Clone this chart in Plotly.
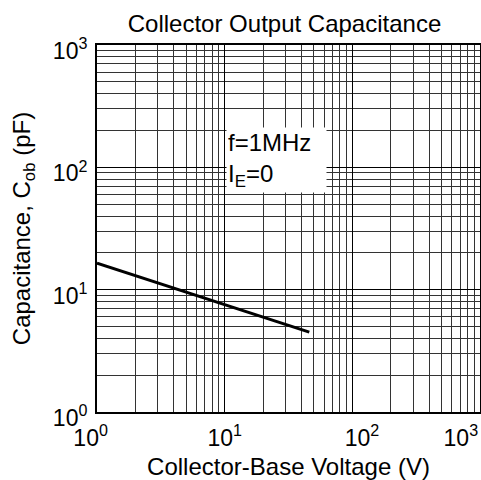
import plotly.graph_objects as go

# data
voltage_v = [1, 46]
capacitance_pf = [16.5, 4.5]
tick_vals = [1, 10, 100, 1000]
x_tick_text = ["10<sup>0</sup>\u00a0\u00a0", "10<sup>1</sup>", "\u00a0\u00a0\u00a010<sup>2</sup>",
               "10<sup>3</sup>\u00a0\u00a0\u00a0\u00a0\u00a0\u00a0"]
y_tick_text = ["10<sup>0</sup>", "10<sup>1</sup>", "10<sup>2</sup>", "10<sup>3</sup>"]

FONT = "Liberation Sans, Arial, sans-serif"

fig = go.Figure()
fig.add_trace(go.Scatter(x=voltage_v, y=capacitance_pf, mode="lines",
                         line=dict(color="black", width=3), showlegend=False,
                         hoverinfo="skip"))

axis_common = dict(
    type="log", tickvals=tick_vals,
    showgrid=True, gridcolor="black", gridwidth=1,
    minor=dict(showgrid=True, gridcolor="#333", gridwidth=1, dtick="D1", ticks=""),
    showline=True, linecolor="black", linewidth=2, mirror=True,
    ticks="", zeroline=False, ticklabeloverflow="allow",
    tickfont=dict(family=FONT, size=23, color="black"),
)

fig.update_xaxes(range=[0, 3], ticktext=x_tick_text,
                 title=dict(text="Collector-Base Voltage (V)",
                            font=dict(family=FONT, size=24, color="black"), standoff=14),
                 ticklabelstandoff=4, **axis_common)
fig.update_yaxes(range=[0, 3], ticktext=y_tick_text, ticklabelshift=6, ticklabelstandoff=3,
                 title=dict(text="Capacitance, C<sub>ob</sub> (pF)",
                            font=dict(family=FONT, size=24, color="black"), standoff=15),
                 **axis_common)

fig.add_annotation(xref="paper", yref="paper", x=0.337, y=0.777, xanchor="left", yanchor="top",
                   text="f=1MHz<br>I<sub>E</sub>=0", align="left", showarrow=False,
                   bgcolor="white", width=97, borderpad=1,
                   font=dict(family=FONT, size=24, color="black"))

fig.update_layout(
    width=481, height=480,
    margin=dict(l=97, r=1, t=45, b=68, autoexpand=False),
    paper_bgcolor="white", plot_bgcolor="white",
    title=dict(text="Collector Output Capacitance", x=0.5915, xanchor="center",
               y=0.95, yanchor="middle",
               font=dict(family=FONT, size=24, color="black")),
)

fig.write_html("out.html", config={"displayModeBar": False},
               post_script="document.body.style.margin='0px';")
